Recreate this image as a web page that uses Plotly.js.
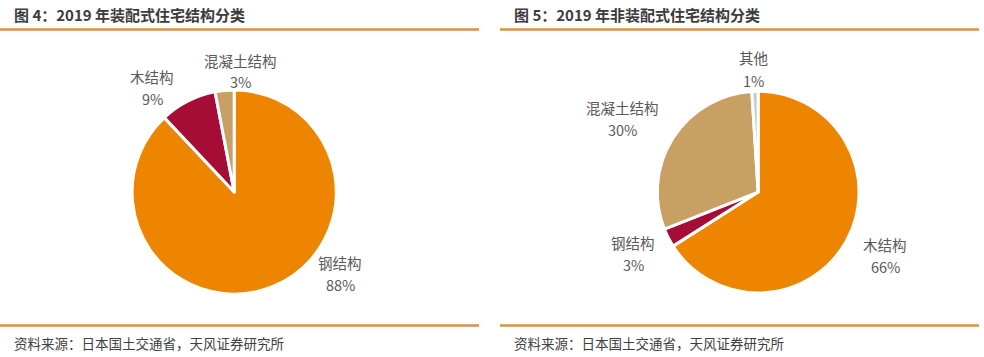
<!DOCTYPE html>
<html><head><meta charset="utf-8">
<script src="https://cdn.plot.ly/plotly-3.0.1.min.js"></script>
<style>html,body{margin:0;padding:0;background:#fff;}#chart{width:984px;height:357px;}</style>
</head><body><div id="chart"></div>
<script>
const title1 = "图 4：2019 年装配式住宅结构分类";
const title2 = "图 5：2019 年非装配式住宅结构分类";
const source = "资料来源：日本国土交通省，天风证券研究所";
const labels1 = ["钢结构", "木结构", "混凝土结构"];
const values1 = [88, 9, 3];
const colors1 = ["#EE8500", "#A50D36", "#C8A064"];
const labels2 = ["木结构", "钢结构", "混凝土结构", "其他"];
const values2 = [66, 3, 30, 1];
const colors2 = ["#EE8500", "#A50D36", "#C8A064", "#C3CBD3"];

const W = 984, H = 357;
const font = "'Noto Sans CJK SC', 'Microsoft YaHei', sans-serif";
// label block positions (pixels) for each slice, in slice order
const labelPos1 = [[340, 262], [152, 76], [240, 60]];
const labelPos2 = [[885, 244], [633, 242], [622, 107], [753, 58]];

function pie(labels, values, colors, x) {
  return {
    type: "pie", labels: labels, values: values, sort: false,
    direction: "clockwise", rotation: 0,
    marker: {colors: colors, line: {color: "#fff", width: 3}},
    textinfo: "none", textposition: "none",
    hoverinfo: "none", showlegend: false,
    domain: {x: x, y: [0.176, 0.748]}
  };
}
const data = [
  pie(labels1, values1, colors1, [0.134, 0.342]),
  pie(labels2, values2, colors2, [0.668, 0.873])
];
const line = (x0, x1, y) => ({type: "line", xref: "paper", yref: "paper", x0: x0 / W, x1: x1 / W, y0: 1 - y / H, y1: 1 - y / H, line: {color: "#D9904A", width: 2.5}});
const txt = (t, x, y, size, color, anchor) => ({text: t, x: x / W, y: 1 - y / H, xref: "paper", yref: "paper", xanchor: anchor || "center", yanchor: "middle", showarrow: false, font: {family: font, size: size, color: color}});
const annotations = [
  txt("<b>" + title1 + "</b>", 12, 15, 15, "#3C3C3C", "left"),
  txt("<b>" + title2 + "</b>", 512, 15, 15, "#3C3C3C", "left"),
  txt(source, 12, 343, 13.5, "#404040", "left"),
  txt(source, 512, 343, 13.5, "#404040", "left")
];
function addLabels(labels, values, pos) {
  const total = values.reduce((a, b) => a + b, 0);
  labels.forEach((l, i) => {
    annotations.push(txt(l, pos[i][0], pos[i][1], 14.5, "#595959"));
    annotations.push(txt(Math.round(values[i] / total * 100) + "%", pos[i][0], pos[i][1] + 22, 14.5, "#595959"));
  });
}
addLabels(labels1, values1, labelPos1);
addLabels(labels2, values2, labelPos2);
const layout = {
  width: W, height: H, margin: {l: 0, r: 0, t: 0, b: 0},
  paper_bgcolor: "#fff", plot_bgcolor: "#fff",
  shapes: [line(0, 479, 29.5), line(500, 979, 29.5), line(0, 479, 325.5), line(500, 979, 325.5)],
  annotations: annotations
};
Plotly.newPlot("chart", data, layout, {staticPlot: true});
</script></body></html>
